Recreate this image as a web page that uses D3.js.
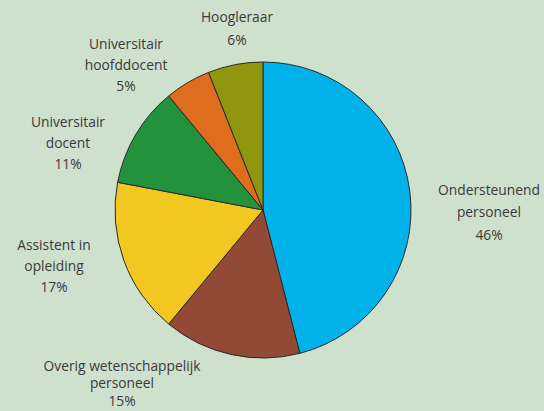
<!DOCTYPE html>
<html><head><meta charset="utf-8">
<script src="https://cdn.jsdelivr.net/npm/d3@7"></script>
<style>
html,body{margin:0;padding:0;background:#cee1cd;}
svg{display:block;}
</style></head>
<body>
<svg id="chart" width="544" height="411"></svg>
<script>
const categories = ["Ondersteunend personeel", "Overig wetenschappelijk personeel", "Assistent in opleiding", "Universitair docent", "Universitair hoofddocent", "Hoogleraar"];
const labelLines = [["Ondersteunend", "personeel"], ["Overig wetenschappelijk", "personeel"], ["Assistent in", "opleiding"], ["Universitair", "docent"], ["Universitair", "hoofddocent"], ["Hoogleraar"]];
const values = [46, 15, 17, 11, 5, 6];
const colors = ["#00b2e9", "#924a37", "#f2c721", "#22923c", "#de6e1e", "#90960e"];

// label anchor positions (layout only)
const labelPos = [[489, 190, 22.5], [122, 366, 17.5], [54, 245, 21], [68, 122, 21], [126, 44, 21], [237, 17, 23]];

const svg = d3.select("#chart");
const cx = 263, cy = 210, r = 148;

const pie = d3.pie().value(d => d).sort(null);
const arc = d3.arc().innerRadius(0).outerRadius(r);
const g = svg.append("g").attr("transform", `translate(${cx},${cy})`);
g.selectAll("path").data(pie(values)).join("path")
  .attr("d", arc)
  .attr("fill", (d, i) => colors[i])
  .attr("stroke", "#2a2a2a")
  .attr("stroke-width", 1);

const fmt = v => v + "%";
labelPos.forEach((p, i) => {
  const lines = labelLines[i].concat([fmt(values[i])]);
  const t = svg.append("text")
    .attr("text-anchor", "middle")
    .attr("font-family", "'Open Sans', sans-serif")
    .attr("font-size", 13.8)
    .attr("fill", "#3a3a3a");
  lines.forEach((ln, j) => {
    t.append("tspan").attr("x", p[0]).attr("y", p[1] + j * p[2]).attr("dy", "0.35em").text(ln);
  });
});
</script>
</body></html>
